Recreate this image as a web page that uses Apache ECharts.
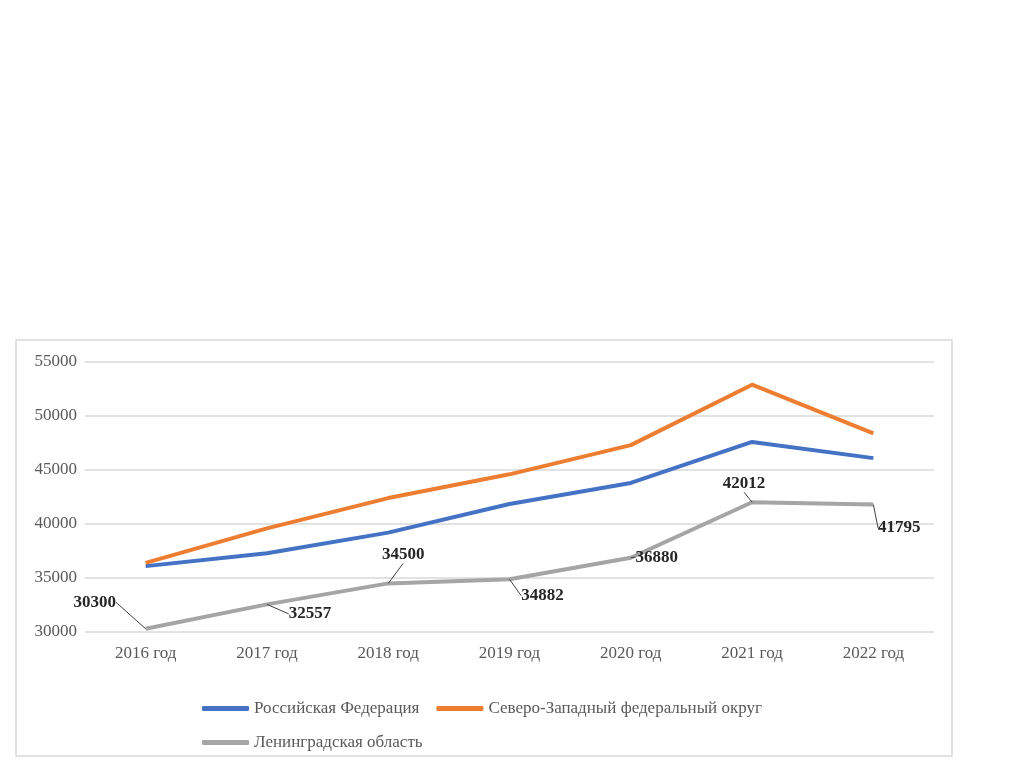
<!DOCTYPE html>
<html><head><meta charset="utf-8">
<script src="https://cdn.jsdelivr.net/npm/echarts@6/dist/echarts.min.js"></script>
<style>html,body{margin:0;padding:0;background:#fff}#c{width:1024px;height:767px}</style>
</head><body><div id="c"></div>
<script>
var categories = ['2016 год','2017 год','2018 год','2019 год','2020 год','2021 год','2022 год'];
var rf = [36100, 37300, 39200, 41850, 43800, 47600, 46100];
var szfo = [36400, 39600, 42400, 44600, 47300, 52900, 48400];
var lo = [30300, 32557, 34500, 34882, 36880, 42012, 41795];
var seriesNames = ['Российская Федерация','Северо-Западный федеральный округ','Ленинградская область'];
var labelShift = [[-51,-13],[43,23],[15,-15],[33,30],[26,13],[-8,-5],[26,37]];

var serif = '"Liberation Serif","DejaVu Serif",serif';
var chart = echarts.init(document.getElementById('c'));
chart.setOption({
  backgroundColor: '#fff',
  animation: false,
  graphic: [{type:'rect', shape:{x:16,y:340,width:936,height:416}, style:{fill:'none', stroke:'#d9d9d9', lineWidth:1.5}}],
  grid: {left:85, right:90, top:362, bottom:135},
  legend: {
    left: 197, top: 695, width: 600,
    itemWidth: 47, itemHeight: 5, itemGap: 17,
    icon: 'roundRect',
    textStyle: {fontFamily: serif, fontSize: 17, color: '#595959'},
    data: seriesNames
  },
  xAxis: {
    type: 'category', data: categories, boundaryGap: true,
    axisLine: {show:false}, axisTick: {show:false},
    axisLabel: {fontFamily: serif, fontSize: 17, color: '#595959', margin: 13}
  },
  yAxis: {
    type: 'value', min: 30000, max: 55000, interval: 5000,
    axisLine:{show:false}, axisTick:{show:false},
    splitLine: {lineStyle:{color:'#d9d9d9', width:1.5}},
    axisLabel: {fontFamily: serif, fontSize: 17, color: '#595959', margin: 8, formatter: function(v){return String(v);}}
  },
  series: [
    {name: seriesNames[0], type:'line', data: rf, symbol:'none', color:'#4472C4', lineStyle:{width:4, color:'#4472C4'}, z:3},
    {name: seriesNames[1], type:'line', data: szfo, symbol:'none', color:'#ED7D31', lineStyle:{width:4, color:'#ED7D31'}, z:3},
    {name: seriesNames[2], type:'line', data: lo, symbol:'circle', symbolSize: 0.1, showSymbol: true, color:'#A5A5A5', lineStyle:{width:4, color:'#A5A5A5'}, z:2,
      label: {show:true, position:'top', distance:5, fontFamily: serif, fontSize: 17, fontWeight:'bold', color:'#262626'},
      labelLine: {show:true, lineStyle:{color:'#404040', width:1}},
      labelLayout: function(p){ var s = labelShift[p.dataIndex]; return {dx:s[0], dy:s[1]}; }
    }
  ]
});
</script></body></html>
